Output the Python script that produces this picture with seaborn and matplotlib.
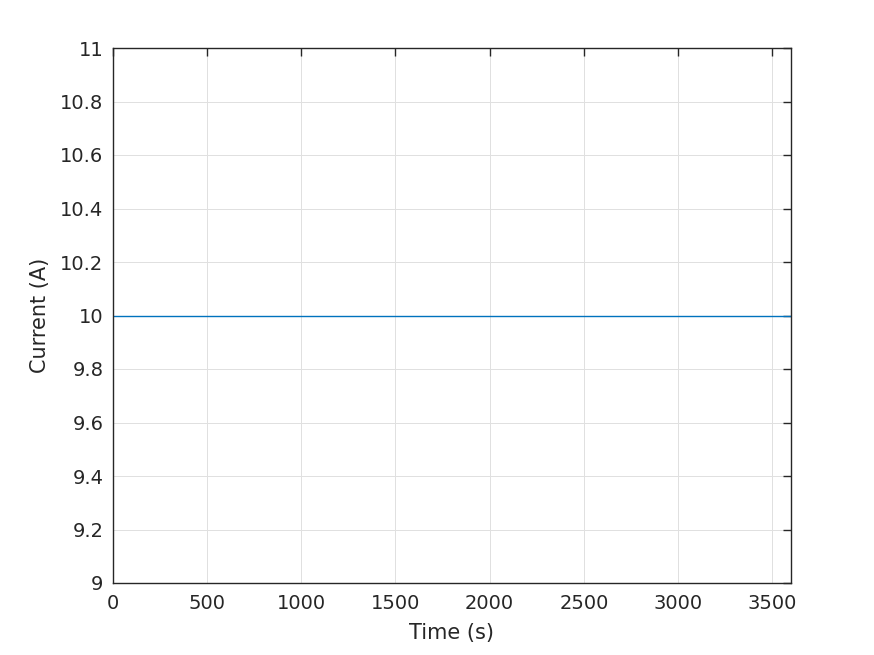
import numpy as np
import pandas as pd
import matplotlib
matplotlib.use("Agg")
import matplotlib.pyplot as plt
import seaborn as sns

# constant current over one hour
time_s = [0, 3600]
current_a = [10, 10]
x_ticks = [0, 500, 1000, 1500, 2000, 2500, 3000, 3500]
y_ticks = [9, 9.2, 9.4, 9.6, 9.8, 10, 10.2, 10.4, 10.6, 10.8, 11]

df = pd.DataFrame({"Time (s)": time_s, "Current (A)": current_a})

sns.set_theme(style="whitegrid")
plt.rcParams["font.family"] = ["DejaVu Sans"]
txt = "#262626"

fig = plt.figure(figsize=(8.74, 6.55), dpi=100)
ax = fig.add_axes([113 / 874, 1 - 583 / 655, (791 - 113) / 874, (583 - 48) / 655])

sns.lineplot(data=df, x="Time (s)", y="Current (A)", ax=ax, color="#0072BD", linewidth=1.0)

ax.set_xlim(0, 3600)
ax.set_ylim(9, 11)
ax.set_xticks(x_ticks)
ax.set_yticks(y_ticks)
ax.set_yticklabels([f"{v:g}" for v in y_ticks])
ax.grid(True, color="#e0e0e0", linewidth=0.7)
for s in ax.spines.values():
    s.set_visible(True)
    s.set_color(txt)
    s.set_linewidth(1.0)
ax.tick_params(direction="in", length=6, width=1.0, color=txt, labelcolor=txt,
               labelsize=14, top=True, right=True)
ax.tick_params(axis="x", pad=8)
ax.tick_params(axis="y", pad=7)
ax.set_xlabel("Time (s)", fontsize=15, color=txt, labelpad=7)
ax.set_ylabel("Current (A)", fontsize=15, color=txt, labelpad=7)

fig.savefig("out.png", dpi=100, facecolor="white")
